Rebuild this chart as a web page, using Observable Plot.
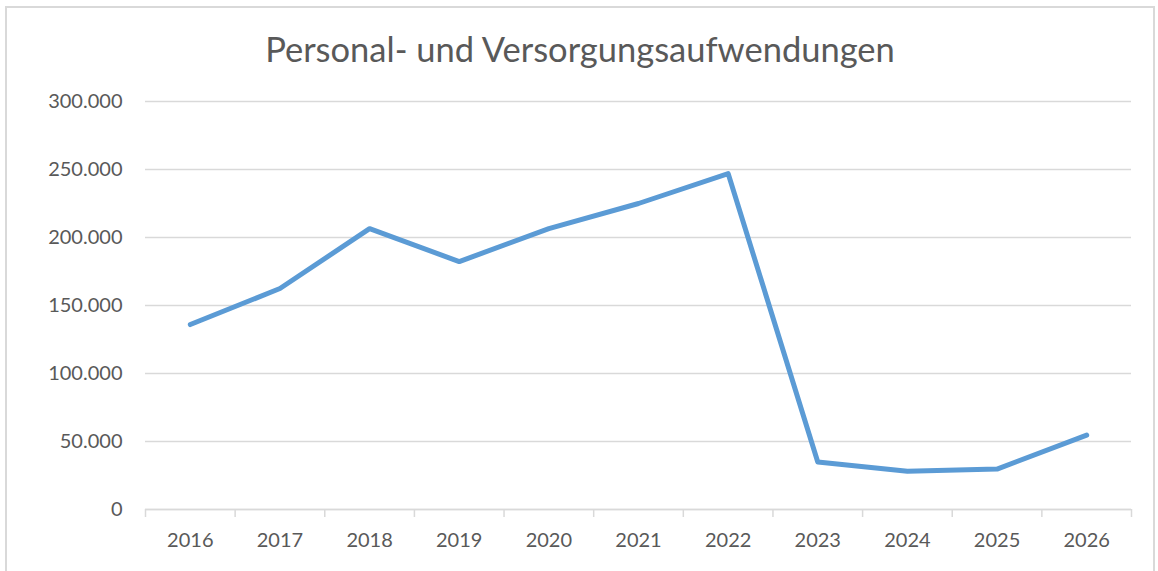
<!DOCTYPE html>
<html>
<head>
<meta charset="utf-8">
<script src="https://cdn.jsdelivr.net/npm/d3@7"></script>
<script src="https://cdn.jsdelivr.net/npm/@observablehq/plot@0.6"></script>
<style>
  html, body { margin: 0; padding: 0; background: #fff; }
  body { width: 1158px; height: 571px; position: relative; overflow: hidden; font-family: Lato, "Noto Sans", sans-serif; }
  #frame { position: absolute; left: 5px; top: 6px; width: 1150px; height: 600px; border: 2px solid #d9d9d9; box-sizing: border-box; }
  #title { position: absolute; left: 0; top: 0; width: 1160px; height: 80px; text-align: center; color: #595959; font-size: 34.5px; line-height: 1; padding-top: 32px; box-sizing: border-box; }
  #chart { position: absolute; left: 0; top: 80px; }
</style>
</head>
<body>
<div id="frame"></div>
<div id="title">Personal- und Versorgungsaufwendungen</div>
<div id="chart"></div>
<script>
const years = [2016, 2017, 2018, 2019, 2020, 2021, 2022, 2023, 2024, 2025, 2026];
const values = [136000, 162500, 206500, 182300, 206500, 225000, 247000, 35000, 28200, 29700, 54700];
const yTicks = [0, 50000, 100000, 150000, 200000, 250000, 300000];

const data = years.map((year, i) => ({year, value: values[i]}));
const boundaries = d3.range(years.length + 1).map(i => years[0] - 0.5 + i);
const de = d3.formatLocale({decimal: ",", thousands: ".", grouping: [3], currency: ["", " €"]});
const fmt = de.format(",d");

const chart = Plot.plot({
  width: 1158,
  height: 491,
  marginTop: 21,
  marginBottom: 62,
  marginLeft: 145,
  marginRight: 27,
  style: {fontFamily: "Lato, 'Noto Sans', sans-serif", fontSize: "20px", color: "#595959", background: "transparent"},
  x: {type: "linear", domain: [years[0] - 0.5, years[years.length - 1] + 0.5]},
  y: {domain: [0, 300000]},
  marks: [
    Plot.gridY(yTicks, {stroke: "#d9d9d9", strokeOpacity: 1, strokeWidth: 1.5}),
    Plot.axisY(yTicks, {tickSize: 0, tickPadding: 23, tickFormat: fmt, label: null, fill: "#595959"}),
    Plot.axisX(boundaries, {tickSize: 8, tickFormat: () => "", stroke: "#d9d9d9", strokeWidth: 1.5, label: null}),
    Plot.axisX(years, {tickSize: 0, tickPadding: 23, tickFormat: d => String(d), label: null, fill: "#595959"}),
    Plot.ruleY([0], {stroke: "#d9d9d9", strokeWidth: 1.5}),
    Plot.line(data, {x: "year", y: "value", stroke: "#5B9BD5", strokeWidth: 5, strokeLinecap: "round", strokeLinejoin: "round"})
  ]
});
document.getElementById("chart").appendChild(chart);
</script>
</body>
</html>
